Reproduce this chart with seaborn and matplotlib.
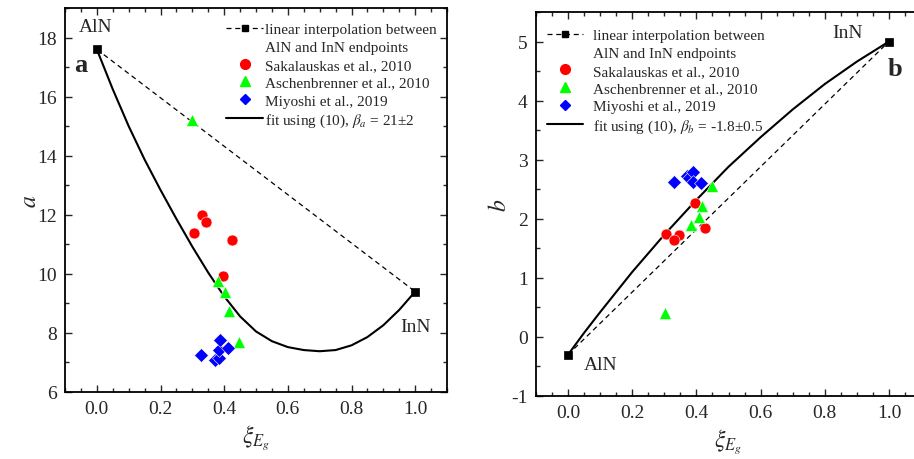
import matplotlib
matplotlib.use("Agg")
import numpy as np
import pandas as pd
import matplotlib.pyplot as plt
import seaborn as sns
from matplotlib.lines import Line2D
from matplotlib.ticker import MultipleLocator

# ---- data ----
end_x = [0.0, 1.0]
a_end = [17.6, 9.4]
b_end = [-0.3, 5.0]

sak_x_a = [0.329, 0.344, 0.305, 0.424, 0.395]
sak_a = [11.99, 11.76, 11.37, 11.14, 9.93]
asc_x_a = [0.298, 0.380, 0.403, 0.416, 0.448]
asc_a = [15.20, 9.76, 9.38, 8.75, 7.68]
miy_x_a = [0.327, 0.370, 0.383, 0.385, 0.386, 0.412]
miy_a = [7.25, 7.07, 7.15, 7.41, 7.75, 7.48]

sak_x_b = [0.396, 0.426, 0.306, 0.346, 0.331]
sak_b = [2.26, 1.85, 1.74, 1.73, 1.64]
asc_x_b = [0.450, 0.418, 0.407, 0.382, 0.301]
asc_b = [2.56, 2.21, 2.03, 1.90, 0.41]
miy_x_b = [0.329, 0.370, 0.378, 0.389, 0.388, 0.415]
miy_b = [2.63, 2.72, 2.69, 2.79, 2.63, 2.61]

fit_x_a = [0.0, 0.05, 0.1, 0.15, 0.2, 0.25, 0.3, 0.35, 0.4, 0.45,
           0.5, 0.55, 0.6, 0.65, 0.7, 0.75, 0.8, 0.85, 0.9, 0.95, 1.0]
fit_a = [17.6, 16.25, 15.0, 13.87, 12.84, 11.86, 10.92, 10.04, 9.24, 8.56,
         8.05, 7.72, 7.52, 7.42, 7.38, 7.42, 7.58, 7.86, 8.26, 8.78, 9.4]

fit_x_b = [0.0, 0.05, 0.1, 0.2, 0.3, 0.4, 0.5, 0.6, 0.7, 0.8, 0.9, 1.0]
fit_b = [-0.3, 0.07, 0.42, 1.10, 1.73, 2.32, 2.88, 3.38, 3.85, 4.28, 4.66, 5.0]

sns.set_style("ticks")
plt.rcParams["font.family"] = ["Liberation Serif", "DejaVu Serif"]
plt.rcParams["mathtext.fontset"] = "stix"
plt.rcParams["axes.unicode_minus"] = False

fig = plt.figure(figsize=(9.14, 4.6), dpi=100, facecolor="white")
ax1 = fig.add_axes([65 / 914, 67 / 460, 382 / 914, 384 / 460])
ax2 = fig.add_axes([536 / 914, 63 / 460, 385 / 914, 384 / 460])

RED, GREEN, BLUE = "#ff0000", "#00ff00", "#0000ff"


def draw_panel(ax, ends, sx, sy, ax_, ay, mx, my, fx, fy):
    sns.lineplot(x=end_x, y=ends, ax=ax, color="black", lw=0.9,
                 linestyle=(0, (4, 3)), sort=False)
    sns.lineplot(x=fx, y=fy, ax=ax, color="black", lw=1.5, sort=False)
    sns.scatterplot(x=end_x, y=ends, ax=ax, marker="s", s=40,
                    color="black", edgecolor="black", zorder=5)
    sns.scatterplot(x=sx, y=sy, ax=ax, marker="o", s=62, color=RED,
                    edgecolor="white", linewidth=0.4, zorder=4)
    sns.scatterplot(x=ax_, y=ay, ax=ax, marker="^", s=75, color=GREEN,
                    edgecolor="white", linewidth=0.4, zorder=4)
    sns.scatterplot(x=mx, y=my, ax=ax, marker="D", s=50, color=BLUE,
                    edgecolor="white", linewidth=0.4, zorder=4)

    ax.set_xlim(-0.1, 1.1)
    ax.xaxis.set_major_locator(MultipleLocator(0.2))
    ax.xaxis.set_minor_locator(MultipleLocator(0.05))
    ax.xaxis.set_major_formatter(plt.FormatStrFormatter("%.1f"))
    ax.tick_params(which="both", direction="in", top=True, right=True,
                   labelsize=14, width=1.0, pad=6)
    ax.tick_params(which="major", length=5)
    ax.tick_params(which="minor", length=3)
    for sp in ax.spines.values():
        sp.set_linewidth(1.3)
        sp.set_color("black")
    ax.set_xlabel(r"$\xi_{E_g}$", fontsize=17, labelpad=4)


draw_panel(ax1, a_end, sak_x_a, sak_a, asc_x_a, asc_a, miy_x_a, miy_a,
           fit_x_a, fit_a)
draw_panel(ax2, b_end, sak_x_b, sak_b, asc_x_b, asc_b, miy_x_b, miy_b,
           fit_x_b, fit_b)

ax1.set_ylim(6, 19)
ax1.yaxis.set_major_locator(MultipleLocator(2))
ax1.yaxis.set_minor_locator(MultipleLocator(1))
ax1.set_ylabel(r"$a$", fontsize=17, labelpad=-3)

ax2.set_ylim(-1, 5.5)
ax2.yaxis.set_major_locator(MultipleLocator(1))
ax2.yaxis.set_minor_locator(MultipleLocator(0.5))
ax2.set_ylabel(r"$b$", fontsize=17, labelpad=0)

# annotations
ax1.text(-0.005, 18.37, "AlN", fontsize=14, ha="center", va="center")
ax1.text(1.0, 8.22, "InN", fontsize=14, ha="center", va="center")
ax1.text(-0.05, 17.1, "a", fontsize=19, fontweight="bold", ha="center", va="center")
ax2.text(0.87, 5.15, "InN", fontsize=14, ha="center", va="center")
ax2.text(0.10, -0.46, "AlN", fontsize=14, ha="center", va="center")
ax2.text(1.02, 4.55, "b", fontsize=19, fontweight="bold", ha="center", va="center")


def make_legend(ax, fit_label, loc, anchor, textpad):
    handles = [
        Line2D([], [], color="black", lw=0.9, linestyle=(0, (4, 3)),
               marker="s", markersize=5),
        Line2D([], [], color="none"),
        Line2D([], [], color=RED, marker="o", linestyle="none", markersize=7),
        Line2D([], [], color=GREEN, marker="^", linestyle="none", markersize=7),
        Line2D([], [], color=BLUE, marker="D", linestyle="none", markersize=5.5),
        Line2D([], [], color="black", lw=1.5),
    ]
    labels = ["linear interpolation between", "AlN and InN endpoints",
              "Sakalauskas et al., 2010", "Aschenbrenner et al., 2010",
              "Miyoshi et al., 2019", fit_label]
    ax.legend(handles, labels, loc=loc, bbox_to_anchor=anchor, frameon=False,
              fontsize=11, labelspacing=0.27, handlelength=2.4,
              handletextpad=textpad, borderaxespad=0.3)


make_legend(ax1, r"fit using (10), $\beta_a$ = 21±2", "upper right", (1.0, 0.99), 0.1)
make_legend(ax2, r"fit using (10), $\beta_b$ = -1.8±0.5", "upper left", (0.0, 0.985), 0.6)

plt.savefig("out.png", dpi=100, facecolor="white")
plt.close()
